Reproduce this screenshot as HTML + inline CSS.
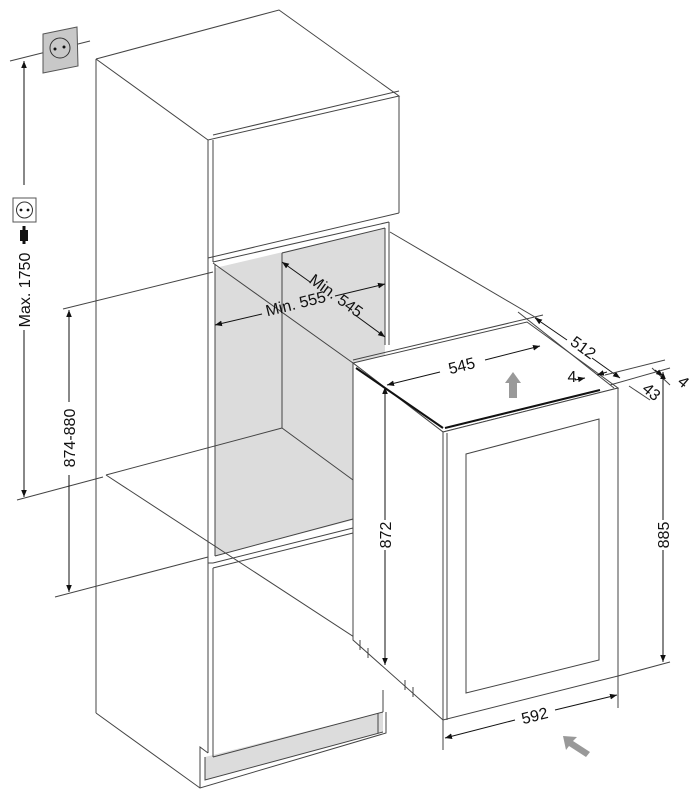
<!DOCTYPE html>
<html><head><meta charset="utf-8"><style>
html,body{margin:0;padding:0;background:#fff;}
svg{display:block;}
text{font-family:"Liberation Sans",sans-serif;font-size:16px;fill:#111;}
</style></head><body>
<svg width="693" height="800" viewBox="0 0 693 800" xmlns="http://www.w3.org/2000/svg">
<defs>
<marker id="a" viewBox="0 0 10 10" refX="10" refY="5" markerWidth="7" markerHeight="7" orient="auto-start-reverse"><path d="M0,1 L10,5 L0,9 z" fill="#111"/></marker>
</defs>
<g stroke="#444" stroke-width="1" fill="none">
<polygon points="215,268 385,228 385,505 353,520 215,556" fill="#dcdcdc" stroke="none"/>
<polygon points="205,757 383,712 383,732 205,780" fill="#dcdcdc" stroke="none"/>
<polyline points="96,59 279,10 399,96 208,140 96,59"/>
<line x1="213" y1="135" x2="399" y2="91"/>
<polyline points="208,140 208,258 399,213"/>
<line x1="213" y1="140" x2="213" y2="258"/>
<line x1="399" y1="96" x2="399" y2="213"/>
<line x1="215" y1="264" x2="215" y2="556"/>
<line x1="213" y1="258" x2="213" y2="262"/>
<line x1="208" y1="258" x2="208" y2="753"/>
<line x1="213" y1="262" x2="389" y2="222"/>
<line x1="282" y1="253" x2="282" y2="428"/>
<line x1="385" y1="228" x2="385" y2="345"/>
<line x1="389" y1="222" x2="389" y2="345"/>
<line x1="282" y1="253" x2="385" y2="228"/>
<line x1="282" y1="428" x2="353" y2="480"/>
<line x1="215" y1="556" x2="353" y2="519"/>
<line x1="213" y1="563" x2="353" y2="528"/>
<line x1="208" y1="563" x2="213" y2="563"/>
<line x1="213" y1="263" x2="353" y2="363"/>
<line x1="390" y1="232" x2="540" y2="320"/>
<line x1="96" y1="59" x2="96" y2="713"/>
<polyline points="96,713 200,788 386,733 386,712"/>
<polyline points="200,788 200,747 208,753"/>
<line x1="213" y1="568" x2="213" y2="757"/>
<line x1="213" y1="757" x2="383" y2="712"/>
<line x1="213" y1="568" x2="353" y2="533"/>
<line x1="383" y1="712" x2="383" y2="690"/>
<line x1="378" y1="713" x2="378" y2="733"/>
<polyline points="205,757 205,780 383,732"/>
<line x1="10" y1="61" x2="90" y2="41"/>
<line x1="63" y1="309" x2="213" y2="272"/>
<line x1="17" y1="500" x2="103" y2="477"/>
<line x1="106" y1="475" x2="282" y2="428"/>
<line x1="106" y1="475" x2="400" y2="667"/>
<line x1="55" y1="597" x2="208" y2="557"/>
<polygon points="353,363 527,322 618,388 443,432" fill="#fff"/>
<polygon points="353,363 443,432 443,720 353,640" fill="#fff"/>
<polygon points="443,432 618,388 618,676 443,720" fill="#fff"/>
<line x1="356" y1="368" x2="443" y2="428" stroke="#111" stroke-width="2"/>
<line x1="445" y1="428" x2="600" y2="390" stroke="#111" stroke-width="2"/>
<line x1="447" y1="433" x2="447" y2="720"/>
<polygon points="466,454 599,419 599,660 466,693"/>
<line x1="360" y1="640" x2="360" y2="650"/><line x1="368" y1="648" x2="368" y2="658"/><line x1="405" y1="680" x2="405" y2="690"/><line x1="413" y1="687" x2="413" y2="697"/>
<line x1="543" y1="315" x2="353" y2="360"/>
<line x1="387" y1="385" x2="440" y2="372" stroke="#111" marker-start="url(#a)"/>
<line x1="485" y1="360" x2="540" y2="346" stroke="#111" marker-end="url(#a)"/>
<line x1="535" y1="318" x2="567" y2="340" stroke="#111" marker-start="url(#a)"/>
<line x1="592" y1="358" x2="620" y2="378" stroke="#111" marker-end="url(#a)"/>
<line x1="518" y1="312" x2="614" y2="388"/>
<line x1="605" y1="375" x2="665" y2="360"/>
<line x1="610" y1="385" x2="670" y2="368"/>
<line x1="575" y1="380" x2="585" y2="378" stroke="#111" marker-end="url(#a)"/>
<line x1="607" y1="372" x2="597" y2="375" stroke="#111" marker-end="url(#a)"/>
<line x1="629" y1="386" x2="650" y2="400"/>
<line x1="652" y1="368" x2="670" y2="385"/>
<line x1="655" y1="370" x2="663" y2="376" stroke="#111" marker-end="url(#a)"/>
<line x1="663" y1="372" x2="663" y2="520" stroke="#111" marker-start="url(#a)"/>
<line x1="663" y1="550" x2="663" y2="662" stroke="#111" marker-end="url(#a)"/>
<line x1="618" y1="676" x2="670" y2="662"/>
<line x1="618" y1="676" x2="618" y2="708"/>
<line x1="443" y1="720" x2="443" y2="750"/>
<line x1="385" y1="387" x2="385" y2="520" stroke="#111" marker-start="url(#a)"/>
<line x1="385" y1="550" x2="385" y2="665" stroke="#111" marker-end="url(#a)"/>
<line x1="445" y1="738" x2="515" y2="720" stroke="#111" marker-start="url(#a)"/>
<line x1="555" y1="710" x2="617" y2="695" stroke="#111" marker-end="url(#a)"/>
<line x1="215" y1="325" x2="262" y2="314" stroke="#111" marker-start="url(#a)"/>
<line x1="335" y1="296" x2="385" y2="284" stroke="#111" marker-end="url(#a)"/>
<line x1="282" y1="262" x2="310" y2="282" stroke="#111" marker-start="url(#a)"/>
<line x1="355" y1="315" x2="385" y2="337" stroke="#111" marker-end="url(#a)"/>
<line x1="24" y1="61" x2="24" y2="185" stroke="#111" marker-start="url(#a)"/>
<line x1="24" y1="330" x2="24" y2="497" stroke="#111" marker-end="url(#a)"/>
<line x1="69" y1="310" x2="69" y2="402" stroke="#111" marker-start="url(#a)"/>
<line x1="69" y1="475" x2="69" y2="592" stroke="#111" marker-end="url(#a)"/>
</g>
<polygon points="43,34 77,27 78,66 43,73" fill="#c8c8c8" stroke="#555"/>
<circle cx="60" cy="48" r="10" fill="none" stroke="#333"/>
<circle cx="55" cy="49" r="1.5" fill="#111"/><circle cx="64" cy="47" r="1.5" fill="#111"/>
<rect x="13" y="198" width="23" height="24" fill="#fff" stroke="#555"/>
<circle cx="24.5" cy="210" r="8" fill="none" stroke="#333"/>
<circle cx="21" cy="210" r="1.4" fill="#111"/><circle cx="28" cy="210" r="1.4" fill="#111"/>
<rect x="20" y="230" width="8" height="11" fill="#111"/><rect x="22.5" y="226" width="3" height="18" fill="#111"/>
<polygon points="513,372 521,383 517,383 517,398 509,398 509,383 505,383" fill="#999"/>
<polygon points="563,736 577,737 573,741 590,752 586,757 569,746 566,750" fill="#999"/>
<text transform="translate(30,290) rotate(-90)" text-anchor="middle">Max. 1750</text>
<text transform="translate(75,438) rotate(-90)" text-anchor="middle">874-880</text>
<text transform="translate(297,309) rotate(-14)" text-anchor="middle">Min. 555</text>
<text transform="translate(333,300) rotate(36)" text-anchor="middle">Min. 545</text>
<text transform="translate(463,371) rotate(-14)" text-anchor="middle">545</text>
<text transform="translate(580,352) rotate(36)" text-anchor="middle">512</text>
<text x="572" y="382" text-anchor="middle">4</text>
<text transform="translate(648,396) rotate(40)" text-anchor="middle">43</text>
<text transform="translate(680,386) rotate(40)" text-anchor="middle">4</text>
<text transform="translate(669,535) rotate(-90)" text-anchor="middle">885</text>
<text transform="translate(391,535) rotate(-90)" text-anchor="middle">872</text>
<text transform="translate(536,721) rotate(-14)" text-anchor="middle">592</text>
</svg>
</body></html>
